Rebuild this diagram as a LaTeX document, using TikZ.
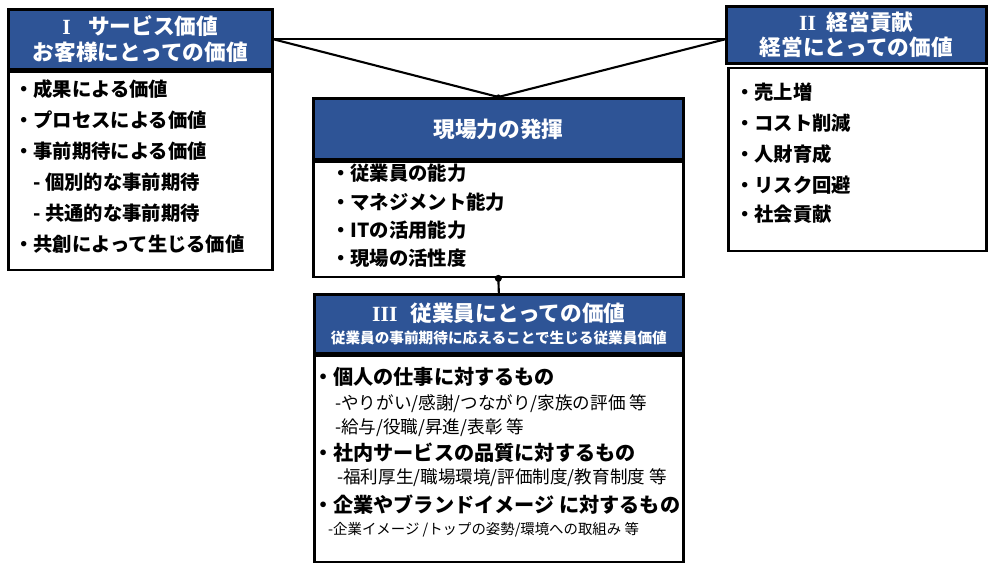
\documentclass[tikz,border=0pt]{standalone}
\usepackage{fontspec}
\setmainfont{Noto Sans CJK JP}
\newfontfamily\numfont{Liberation Serif}
\usetikzlibrary{positioning}

\definecolor{hdblue}{RGB}{46,84,150}
\newcommand{\pxu}{0.03cm}
\newcommand{\hdsize}{\fontsize{18.5}{22}\selectfont}
\newcommand{\romnum}[1]{{\numfont\bfseries #1}}

\tikzset{
  head/.style={draw=black, line width=2.3pt, fill=hdblue, text=white,
    font=\hdsize\bfseries, align=center, inner sep=0pt, anchor=north west},
  body/.style={draw=black, line width=2.3pt, fill=white, anchor=north, inner sep=0pt},
  item/.style={anchor=west, inner sep=0pt, font=\fontsize{16.5}{18}\selectfont\bfseries},
  bigitem/.style={item, font=\fontsize{17.2}{19}\selectfont\bfseries},
  subitem/.style={anchor=west, inner sep=0pt, font=\fontsize{15}{17}\selectfont},
  smallitem/.style={anchor=west, inner sep=0pt, font=\fontsize{12.3}{14}\selectfont},
  link/.style={line width=1.8pt},
}

\begin{document}
\begin{tikzpicture}[x=0.03cm, y=-0.03cm]
  \useasboundingbox (0,0) rectangle (1000,567);

  % I サービス価値
  \node[head, minimum width=264*\pxu, minimum height=60*\pxu] (headI) at (7,8)
    {\romnum{I}\hspace{0.8em}サービス価値\\お客様にとっての価値};
  \node[body, minimum width=264*\pxu, minimum height=198*\pxu] (bodyI) at (headI.south) {};
  \node[item] (i1) at (14,89)  {・成果による価値};
  \node[item] (i2) at (14,120) {・プロセスによる価値};
  \node[item] (i3) at (14,151) {・事前期待による価値};
  \node[item] (i4) at (33,182) {- 個別的な事前期待};
  \node[item] (i5) at (33,213) {- 共通的な事前期待};
  \node[item] (i6) at (14,244) {・共創によって生じる価値};

  % II 経営貢献
  \node[head, minimum width=260*\pxu, minimum height=57*\pxu] (headII) at (725,5)
    {\romnum{II}\hspace{0.5em}経営貢献\\経営にとっての価値};
  \node[body, minimum width=258*\pxu, minimum height=183*\pxu] (bodyII)
    at ([xshift=1*\pxu, yshift=-2*\pxu]headII.south) {};
  \node[item] (k1) at (735,92)  {・売上増};
  \node[item] (k2) at (735,123) {・コスト削減};
  \node[item] (k3) at (735,154) {・人財育成};
  \node[item] (k4) at (735,185) {・リスク回避};
  \node[item] (k5) at (735,214) {・社会貢献};

  % 現場力
  \node[head, minimum width=370*\pxu, minimum height=61*\pxu] (headG) at (312,97)
    {現場力の発揮};
  \node[body, minimum width=370*\pxu, minimum height=115*\pxu] (bodyG) at (headG.south) {};
  \node[item] (g1) at (331,173) {・従業員の能力};
  \node[item] (g2) at (331,202) {・マネジメント能力};
  \node[item] (g3) at (331,230) {・ITの活用能力};
  \node[item] (g4) at (331,258) {・現場の活性度};

  % III 従業員にとっての価値
  \node[head, minimum width=369*\pxu, minimum height=59*\pxu] (headIII) at (313,293)
    {\romnum{III}\hspace{0.6em}従業員にとっての価値\\[-3pt]
     {\fontsize{12.5}{14}\selectfont 従業員の事前期待に応えることで生じる従業員価値}};
  \node[body, minimum width=369*\pxu, minimum height=206*\pxu] (bodyIII) at (headIII.south) {};
  \node[bigitem]   (e1) at (313,377) {・個人の仕事に対するもの};
  \node[subitem]   (e2) at (335,404) {-やりがい/感謝/つながり/家族の評価 等};
  \node[subitem]   (e3) at (335,428) {-給与/役職/昇進/表彰 等};
  \node[bigitem]   (e4) at (313,453) {・社内サービスの品質に対するもの};
  \node[subitem]   (e5) at (337,478) {-福利厚生/職場環境/評価制度/教育制度 等};
  \node[bigitem]   (e6) at (313,505) {・企業やブランドイメージ に対するもの};
  \node[smallitem] (e7) at (328,530) {-企業イメージ /トップの姿勢/環境への取組み 等};

  % つなぎ線
  \coordinate (rj) at (headI.east -| headII.west);
  \draw[link] (headI.east) -- (rj);
  \draw[link] (headI.east) -- (headG.north);
  \draw[link] (rj) -- (headG.north);
  \draw[link] (bodyG.south) -- (headIII.north);
  \fill (headG.north) circle (2.2pt);
  \fill (bodyG.south) circle (3pt);
\end{tikzpicture}
\end{document}
